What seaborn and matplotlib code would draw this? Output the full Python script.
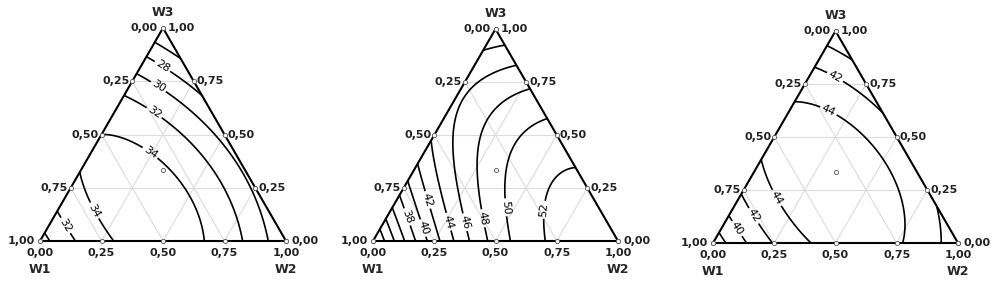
# Ternary contour plots (three responses over W1/W2/W3 mixtures)

import numpy as np
import matplotlib
matplotlib.use('Agg')
import matplotlib.pyplot as plt
import matplotlib.tri as mtri
import seaborn as sns

# Data
components = ['W1', 'W2', 'W3']
tick_values = [0.0, 0.25, 0.5, 0.75, 1.0]
tick_labels = ['0,00', '0,25', '0,50', '0,75', '1,00']

# Scheffe special cubic model: b1, b2, b3, b12, b13, b23, b123
coef_a = [29.1, 28.3, 23.75, 24.5, 30.3, 13.0, -10.0]
coef_b = [29.5, 52.0, 42.2, 32.0, 34.0, 15.0, -24.0]
coef_c = [36.6, 40.76, 38.3, 23.9, 28.2, 11.6, -5.0]

levels_a = [26, 28, 30, 32, 34]
levels_b = [32, 34, 36, 38, 40, 42, 44, 46, 48, 50, 52]
levels_c = [38, 40, 42, 44]

design_center = [1/3, 1/3, 1/3]

# label spots (axes data coords) and panel boxes in pixels (left, bottom, width, height)
label_pos_a = [(0.496, 0.707), (0.48, 0.626), (0.463, 0.52), (0.447, 0.358),
               (0.203, 0.114), (0.094, 0.057)]
label_pos_b = [(0.127, 0.094), (0.204, 0.053), (0.22, 0.167), (0.306, 0.078),
               (0.38, 0.078), (0.457, 0.094), (0.559, 0.139), (0.702, 0.127)]
label_pos_c = [(0.498, 0.678), (0.469, 0.535), (0.245, 0.176), (0.171, 0.114),
               (0.102, 0.061)]

boxes = [(40, 44, 246, 213), (373, 44, 245, 212), (713, 42, 245, 212)]

H = np.sqrt(3) / 2


def to_xy(w1, w2, w3):
    w1, w2, w3 = np.asarray(w1), np.asarray(w2), np.asarray(w3)
    return w2 + w3 / 2, w3 * H


def model(c, w1, w2, w3):
    return (c[0] * w1 + c[1] * w2 + c[2] * w3 + c[3] * w1 * w2
            + c[4] * w1 * w3 + c[5] * w2 * w3 + c[6] * w1 * w2 * w3)


# triangular grid over the simplex
n = 160
g2, g3 = [], []
for i in range(n + 1):
    for j in range(n + 1 - i):
        g2.append(i / n)
        g3.append(j / n)
g2 = np.array(g2)
g3 = np.array(g3)
g1 = np.clip(1 - g2 - g3, 0, 1)
gx, gy = to_xy(g1, g2, g3)
tri = mtri.Triangulation(gx, gy)

sns.set_style('white')
plt.rcParams['font.family'] = ['DejaVu Sans']

fig = plt.figure(figsize=(9.96, 2.85), dpi=100)

panels = [(coef_a, levels_a, label_pos_a),
          (coef_b, levels_b, label_pos_b),
          (coef_c, levels_c, label_pos_c)]

for (coef, levels, label_pos), box in zip(panels, boxes):
    ax = fig.add_axes([box[0] / 996, box[1] / 285, box[2] / 996, box[3] / 285])
    ax.set_xlim(0, 1)
    ax.set_ylim(0, H)
    ax.axis('off')
    px = 1 / box[2]

    # light grid
    for v in [0.25, 0.5, 0.75]:
        for a, b in [((1 - v, 0, v), (0, 1 - v, v)),
                     ((v, 1 - v, 0), (v, 0, 1 - v)),
                     ((1 - v, v, 0), (0, v, 1 - v))]:
            xa, ya = to_xy(*a)
            xb, yb = to_xy(*b)
            ax.plot([xa, xb], [ya, yb], color='#dcdcdc', lw=0.8, zorder=1)

    # contours
    z = model(coef, g1, g2, g3)
    cs = ax.tricontour(tri, z, levels=levels, colors='black', linewidths=1.2, zorder=3)
    ax.clabel(cs, manual=label_pos, inline=True, fontsize=8,
              fmt='%d', inline_spacing=2)

    # frame
    ax.plot([0, 1, 0.5, 0], [0, 0, H, 0], color='black', lw=1.5, zorder=4,
            solid_joinstyle='miter', clip_on=False)

    # tick marks and design centre
    tv = np.array(tick_values)
    mx = np.concatenate([tv, (1 - tv) / 2, 1 - tv / 2])
    my = np.concatenate([np.zeros_like(tv), (1 - tv) * H, tv * H])
    cx, cy = to_xy(*design_center)
    mx = np.append(mx, cx)
    my = np.append(my, cy)
    sns.scatterplot(x=mx, y=my, ax=ax, s=9, color='white', edgecolor='#555555',
                    linewidth=0.6, zorder=5, clip_on=False, legend=False)

    # tick labels
    for v, lab in zip(tick_values, tick_labels):
        # bottom: W2
        ax.text(v, -7 * px, lab, ha='center', va='top', fontsize=8,
                fontweight='bold', color='#222222')
        # left: W1 (a bit more room at the corners)
        lx, ly = to_xy(v, 0, 1 - v)
        off = 5 if v in (0.0, 1.0) else 3
        ax.text(lx - off * px, ly, lab, ha='right', va='center', fontsize=8,
                fontweight='bold', color='#222222')
        # right: W3
        rx, ry = to_xy(0, 1 - v, v)
        ax.text(rx + off * px, ry, lab, ha='left', va='center', fontsize=8,
                fontweight='bold', color='#222222')

    # component names
    ax.text(0.5, H + 16 * px, components[2], ha='center', va='center',
            fontsize=9, fontweight='bold')
    ax.text(0, -29 * px, components[0], ha='center', va='center',
            fontsize=9, fontweight='bold')
    ax.text(1, -29 * px, components[1], ha='center', va='center',
            fontsize=9, fontweight='bold')

fig.savefig('out.png', dpi=100)
